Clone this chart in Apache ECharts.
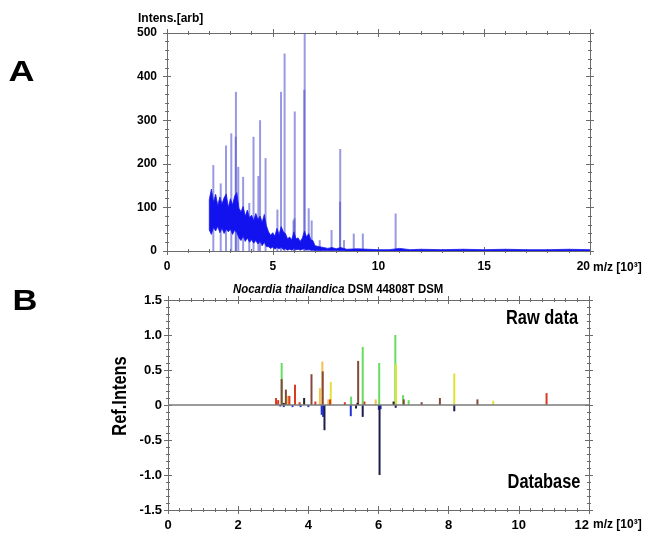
<!DOCTYPE html>
<html>
<head>
<meta charset="utf-8">
<script src="https://cdn.jsdelivr.net/npm/echarts/dist/echarts.min.js"></script>
<style>
  html, body { margin: 0; padding: 0; background: #fff; }
  #main { width: 646px; height: 534px; }
</style>
</head>
<body>
<div id="main"></div>
<script>
// ---- panel A : raw spectrum ----
const noiseMz = [2.0,2.1,2.2,2.3,2.4,2.5,2.6,2.7,2.8,2.9,3.0,3.1,3.2,3.3,3.4,3.5,3.6,3.7,3.8,3.9,
  4.0,4.1,4.2,4.3,4.4,4.5,4.6,4.7,4.8,4.9,5.0,5.1,5.2,5.3,5.4,5.5,5.6,5.7,5.8,5.9,
  6.0,6.1,6.2,6.3,6.4,6.5,6.6,6.7,6.8,6.9,7.0,7.2,7.4,7.6,7.8,8.0,8.2,8.5,9.0,9.5,
  10.0,10.5,11.0,11.5,12,13,14,15,16,17,18,19,20];
const noiseLo = [48,38,54,46,56,42,52,40,50,44,50,38,48,42,30,24,34,22,30,20,
  26,18,24,16,22,12,20,10,10,6,9,4,8,5,8,3,5,2,4,2,
  6,3,4,2,4,5,2,4,2,2,1,1,1,1,1,1,1,0,0,0,
  0,0,0,0,0,0,0,0,0,0,0,0,0];
const noiseHi = [118,142,112,130,104,124,108,122,131,100,120,106,126,134,98,90,102,80,94,76,
  82,70,86,72,80,66,84,58,44,36,42,34,52,38,56,44,40,28,32,26,
  44,28,30,22,30,46,32,40,26,24,12,10,8,6,8,5,8,4,5,4,
  3,3,6,3,4,3,4,3,4,3,3,4,3];
const peakMz  = [2.19,2.54,2.79,3.04,3.26,3.25,3.37,3.60,3.89,4.09,4.32,4.40,4.66,5.22,5.39,5.56,
  5.98,6.04,6.03,6.51,6.49,6.70,6.84,7.22,7.78,8.19,8.18,8.37,8.83,9.26,10.81];
const peakInt = [197,155,242,270,365,262,193,170,110,262,172,300,213,95,365,453,
  70,320,75,510,370,98,70,25,48,234,113,25,40,40,86];

// ---- panel B : raw data vs database ----
const rawGreen  = [[3.24,0.60],[5.22,0.12],[5.55,0.83],[6.02,0.60],[6.48,1.00],[6.70,0.14],[6.86,0.07]];
const rawYellow = [[4.64,0.33],[6.50,0.58],[8.16,0.45],[9.27,0.06]];
const rawOrange = [[3.42,0.13],[4.33,0.24],[4.40,0.62],[4.57,0.08],[5.92,0.08]];
const rawRed    = [[3.08,0.10],[3.14,0.07],[3.46,0.13],[3.62,0.29],[3.75,0.04],[4.20,0.05],
  [4.62,0.08],[5.04,0.04],[5.60,0.05],[10.79,0.17]];
const rawBrown  = [[3.24,0.37],[3.36,0.22],[4.09,0.44],[4.41,0.48],[5.42,0.63],[6.72,0.08],
  [7.23,0.04],[7.75,0.10],[8.82,0.08]];
const rawBlack  = [[3.30,0.03],[3.88,0.10],[5.40,0.03],[6.43,0.05]];
const dbBlue    = [[3.30,-0.03],[3.55,-0.03],[3.78,-0.03],[4.00,-0.03],[4.38,-0.14],[4.42,-0.17],
  [5.21,-0.16],[6.01,-0.07],[6.06,-0.06]];
const dbNavy    = [[3.20,-0.02],[4.46,-0.36],[5.36,-0.05],[5.55,-0.17],[6.03,-1.00],[6.49,-0.04],[8.16,-0.09]];

const ticksA = { xMin: 0, xMax: 20, xStep: 5, yMin: 0, yMax: 500, yStep: 100 };
const ticksB = { xMin: 0, xMax: 12, xStep: 2, yMin: -1.5, yMax: 1.5, yStep: 0.5 };

const gray = '#6b6b6b';
const font = 'Liberation Sans, Arial, sans-serif';

// two axes per side so the ticks cross the frame line
function sideAxes(gridIndex, side, min, max, interval, minorSplit, label) {
  const base = {
    type: 'value', gridIndex, position: side, min, max, interval,
    axisLine: { show: true, onZero: false, lineStyle: { color: gray, width: 1 } },
    splitLine: { show: false },
    axisLabel: { show: false }
  };
  const outer = Object.assign({}, base, {
    axisTick: { show: true, inside: false, length: 4, lineStyle: { color: gray } },
    minorTick: { show: true, splitNumber: minorSplit, length: 2, lineStyle: { color: gray } }
  });
  if (label) outer.axisLabel = label;
  const inner = Object.assign({}, base, {
    axisTick: { show: true, inside: true, length: 4, lineStyle: { color: gray } },
    minorTick: { show: true, splitNumber: minorSplit, length: 2, lineStyle: { color: gray } }
  });
  return [outer, inner];
}

const lab = (m, size, extra) => Object.assign({ show: true, margin: m, color: '#000', fontWeight: 'bold',
  fontSize: size, fontFamily: font }, extra || {});

const xAxes = [].concat(
  sideAxes(0, 'bottom', ticksA.xMin, ticksA.xMax, ticksA.xStep, 5, lab(10, 12, { alignMaxLabel: 'right' })),
  sideAxes(0, 'top', ticksA.xMin, ticksA.xMax, ticksA.xStep, 5),
  sideAxes(1, 'bottom', ticksB.xMin, ticksB.xMax, ticksB.xStep, 6, lab(9, 13, { alignMaxLabel: 'right' })),
  sideAxes(1, 'top', ticksB.xMin, ticksB.xMax, ticksB.xStep, 6)
);
const yAxes = [].concat(
  sideAxes(0, 'left', ticksA.yMin, ticksA.yMax, ticksA.yStep, 5, lab(10, 12)),
  sideAxes(0, 'right', ticksA.yMin, ticksA.yMax, ticksA.yStep, 5),
  sideAxes(1, 'left', ticksB.yMin, ticksB.yMax, ticksB.yStep, 5,
    lab(6, 13, { formatter: v => (v === 0 ? '0' : v.toFixed(1)) })),
  sideAxes(1, 'right', ticksB.yMin, ticksB.yMax, ticksB.yStep, 5)
);

function rawBars(name, data, color) {
  return { name, type: 'bar', xAxisIndex: 4, yAxisIndex: 4, data, barWidth: 2, barGap: '-100%',
    itemStyle: { color }, silent: true };
}

const peaks = peakMz.map((m, i) => [m, peakInt[i]]);
const band = noiseMz.map((m, i) => [m, noiseLo[i], noiseHi[i]]);

// noise band as one polygon: upper edge left->right, lower edge back
function renderBand(params, api) {
  if (params.dataIndex !== 0) return;
  const top = [], bottom = [];
  for (let i = 0; i < band.length; i++) {
    top.push(api.coord([band[i][0], band[i][2]]));
    bottom.unshift(api.coord([band[i][0], band[i][1]]));
  }
  return { type: 'polygon', shape: { points: top.concat(bottom) },
    style: { fill: '#1212ee', stroke: '#1a1af2', lineWidth: 0.8 } };
}

const chart = echarts.init(document.getElementById('main'));
chart.setOption({
  animation: false,
  backgroundColor: '#fff',
  grid: [
    { left: 167, right: 56, top: 33, height: 218 },
    { left: 168, right: 57, top: 300, height: 210 }
  ],
  xAxis: xAxes,
  yAxis: yAxes,
  graphic: [
    { type: 'text', x: 21.5, y: 72.5, scaleX: 1.2,
      style: { text: 'A', font: 'bold 30px ' + font, fill: '#000', align: 'center', verticalAlign: 'middle' } },
    { type: 'text', x: 25, y: 301.5, scaleX: 1.15,
      style: { text: 'B', font: 'bold 30px ' + font, fill: '#000', align: 'center', verticalAlign: 'middle' } },
    { type: 'text', x: 138, y: 19, style: { text: 'Intens.[arb]', font: 'bold 12px ' + font, fill: '#000', verticalAlign: 'middle' } },
    { type: 'text', x: 593, y: 268, style: { text: 'm/z [10³]', font: 'bold 12px ' + font, fill: '#000', verticalAlign: 'middle' } },
    { type: 'text', x: 593, y: 525, style: { text: 'm/z [10³]', font: 'bold 12px ' + font, fill: '#000', verticalAlign: 'middle' } },
    { type: 'text', x: 233, y: 290, scaleX: 0.95, style: {
        text: '{i|Nocardia thailandica} {n|DSM 44808T DSM}', verticalAlign: 'middle',
        rich: {
          i: { font: 'italic bold 12px ' + font, fill: '#000' },
          n: { font: 'bold 12px ' + font, fill: '#000' }
        } } },
    { type: 'text', x: 120, y: 396, rotation: Math.PI / 2, scaleX: 0.82,
      style: { text: 'Ref.Intens', font: 'bold 20px ' + font, fill: '#000', align: 'center', verticalAlign: 'middle' } },
    { type: 'text', x: 542, y: 318.5, scaleX: 0.82,
      style: { text: 'Raw data', font: 'bold 20px ' + font, fill: '#000', align: 'center', verticalAlign: 'middle' } },
    { type: 'text', x: 544, y: 482.5, scaleX: 0.82,
      style: { text: 'Database', font: 'bold 20px ' + font, fill: '#000', align: 'center', verticalAlign: 'middle' } }
  ],
  series: [
    { name: 'peaks', type: 'bar', xAxisIndex: 0, yAxisIndex: 0, data: peaks, barWidth: 2, z: 1,
      itemStyle: { color: 'rgba(85,85,210,0.6)' }, clip: true, silent: true },
    // own canvas layer so the band always covers the peak feet
    { name: 'noise', type: 'custom', xAxisIndex: 0, yAxisIndex: 0, data: band, zlevel: 1, z: 5,
      renderItem: renderBand, clip: true, silent: true },

    Object.assign(rawBars('green', rawGreen, '#66dd5e'), {
      markLine: { silent: true, symbol: 'none', label: { show: false },
        lineStyle: { color: '#7a7a7a', width: 1.5, type: 'solid' }, data: [{ yAxis: 0 }] } }),
    rawBars('yellow', rawYellow, '#e2e23a'),
    rawBars('orange', rawOrange, '#f4c050'),
    rawBars('red', rawRed, '#d93a24'),
    rawBars('brown', rawBrown, '#85493c'),
    rawBars('black', rawBlack, '#222222'),
    rawBars('dbBlue', dbBlue, '#2233d6'),
    rawBars('dbNavy', dbNavy, '#1d1d4a')
  ]
});
</script>
</body>
</html>
